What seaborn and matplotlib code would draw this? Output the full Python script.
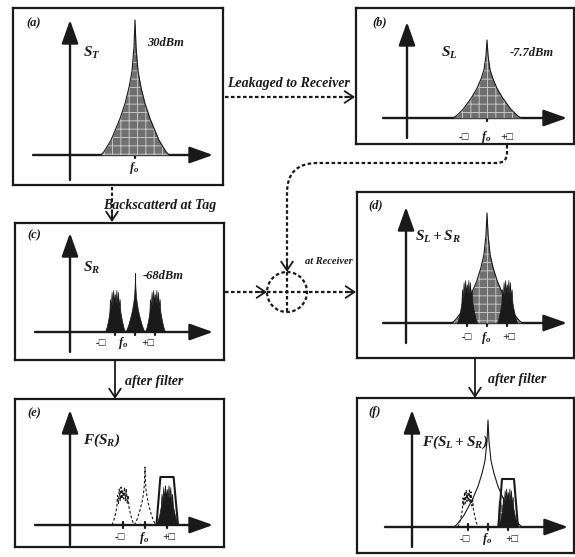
import numpy as np
import matplotlib
matplotlib.use("Agg")
import matplotlib.pyplot as plt
import seaborn as sns
from matplotlib.patches import Circle, PathPatch
from matplotlib.path import Path

# ---- spectrum shapes: x = offset from f0 in units of delta, y = relative level ----
# half profile of the carrier cusp
CUSP_DX = [0.0, 0.05, 0.15, 0.3, 0.5, 0.75, 1.0, 1.2, 1.4, 1.55, 1.7]
CUSP_H = [1.0, 0.80, 0.62, 0.50, 0.38, 0.27, 0.18, 0.11, 0.06, 0.025, 0.0]

# spiky sideband around +/- delta
SB_DX = [-0.5, -0.42, -0.34, -0.28, -0.25, -0.21, -0.17, -0.13, -0.09, -0.05, -0.01,
         0.03, 0.07, 0.11, 0.15, 0.19, 0.23, 0.27, 0.34, 0.42, 0.5]
SB_H = [0.0, 0.05, 0.12, 0.20, 0.33, 0.24, 0.40, 0.27, 0.42, 0.29, 0.38,
        0.29, 0.42, 0.27, 0.40, 0.24, 0.33, 0.20, 0.12, 0.05, 0.0]

# band pass filter around +delta
FILT_X = [0.52, 0.70, 1.30, 1.50]
FILT_H = [0.0, 0.48, 0.48, 0.0]

# leakage tail that passes the filter in (f)
TAIL_X = [0.45, 0.52, 0.65, 0.8, 0.95, 1.1, 1.25, 1.4, 1.6]
TAIL_H = [0.0, 0.27, 0.24, 0.20, 0.16, 0.12, 0.08, 0.04, 0.0]

# carrier peak level / width factor per panel
PEAK_H = {"a": 1.35, "b": 0.78, "c": 0.59, "d": 1.10, "e": 0.58, "f": 1.07}
PEAK_W = {"a": 1.0, "b": 1.0, "c": 0.29, "d": 1.03, "e": 0.29, "f": 1.0}
SB_SCALE = {"c": 1.0, "d": 1.02, "e": 0.95, "e_dash": 0.9, "f": 0.92, "f_dash": 0.88}

# ---- layout in pixels ----
W, H = 575, 557
PANELS = {
    "a": dict(box=(13, 8, 223, 185), f0=135, axy=155, d=20, yax=(70, 180, 20), xax=(33, 213)),
    "b": dict(box=(356, 8, 574, 144), f0=487, axy=118, d=20, yax=(407, 138, 22), xax=(383, 567)),
    "c": dict(box=(15, 223, 224, 360), f0=135, axy=332, d=20, yax=(70, 352, 233), xax=(35, 213)),
    "d": dict(box=(357, 192, 574, 358), f0=487, axy=323, d=20, yax=(406, 343, 207), xax=(383, 567)),
    "e": dict(box=(15, 399, 224, 547), f0=145, axy=525, d=22, yax=(70, 545, 410), xax=(35, 213)),
    "f": dict(box=(357, 398, 574, 553), f0=488, axy=527, d=20, yax=(412, 547, 410), xax=(385, 568)),
}
YPX = 100.0

sns.set_theme(style="white")
plt.rcParams["font.family"] = ["Liberation Serif", "DejaVu Serif"]
plt.rcParams["font.weight"] = "bold"
plt.rcParams["font.style"] = "italic"
plt.rcParams["mathtext.fontset"] = "custom"
plt.rcParams["mathtext.rm"] = "Liberation Serif:bold:italic"
plt.rcParams["mathtext.it"] = "Liberation Serif:bold:italic"
plt.rcParams["mathtext.bf"] = "Liberation Serif:bold:italic"
plt.rcParams["hatch.linewidth"] = 0.7

fig = plt.figure(figsize=(W / 100, H / 100), dpi=100)
ax0 = fig.add_axes([0, 0, 1, 1])
ax0.set_xlim(0, W)
ax0.set_ylim(H, 0)
ax0.axis("off")

TXT = dict(fontsize=10, fontweight="bold", fontstyle="italic", color="k")


def cusp(height, width):
    dx = np.array(CUSP_DX) * width
    h = np.array(CUSP_H) * height
    return np.concatenate([-dx[::-1], dx[1:]]), np.concatenate([h[::-1], h[1:]])


def sideband(center, scale):
    return np.array(SB_DX) + center, np.array(SB_H) * scale


def stipple(ax, x, y, outline=True):
    ax.fill_between(x, y, color="#6f6f6f", lw=0, zorder=2)
    ax.fill_between(x, y, facecolor="none", edgecolor="#c4c4c4", hatch="++", lw=0, zorder=2)
    if outline:
        sns.lineplot(x=x, y=y, sort=False, estimator=None, color="k", lw=0.8, ax=ax, zorder=3)


def black(ax, x, y):
    ax.fill_between(x, y, color="k", lw=0.5, zorder=4)


def outline(ax, x, y, dashed=False, lw=0.8):
    ls = (0, (2.5, 1.8)) if dashed else "-"
    ax.plot(x, y, color="k", lw=lw, ls=ls, zorder=5)


def make_panel(key):
    p = PANELS[key]
    x0, y0, x1, y1 = p["box"]
    ax = fig.add_axes([x0 / W, 1 - y1 / H, (x1 - x0) / W, (y1 - y0) / H])
    ax.set_facecolor("none")
    ax.set_xlim((x0 - p["f0"]) / p["d"], (x1 - p["f0"]) / p["d"])
    ax.set_ylim((p["axy"] - y1) / YPX, (p["axy"] - y0) / YPX)
    ax.set_xticks([])
    ax.set_yticks([])
    for s in ax.spines.values():
        s.set_color("k")
        s.set_linewidth(1.6)
        s.set_visible(True)
    # coordinate axes of the sketch
    head = dict(arrowstyle="-|>,head_length=0.9,head_width=0.32", color="k", lw=1.7,
                mutation_scale=16, shrinkA=0, shrinkB=0)
    yx, yb, yt = p["yax"]
    ax0.annotate("", xy=(yx, yt), xytext=(yx, yb), arrowprops=head, zorder=6)
    xa, xb = p["xax"]
    ax0.annotate("", xy=(xb, p["axy"]), xytext=(xa, p["axy"]), arrowprops=head, zorder=6)
    return ax


def ticks(key, offsets):
    p = PANELS[key]
    for o in offsets:
        xp = p["f0"] + o * p["d"]
        ax0.plot([xp, xp], [p["axy"] - 3, p["axy"] + 3], color="k", lw=1.6, zorder=7)


def label(x, y, s, size=10, ha="left"):
    ax0.text(x, y, s, ha=ha, va="center", **{**TXT, "fontsize": size}, zorder=8)


# ---- (a) transmitted ----
ax = make_panel("a")
stipple(ax, *cusp(PEAK_H["a"], PEAK_W["a"]))
ticks("a", [0])
label(26, 23, "(a)", 9)
label(83, 53, r"$S_T$", 11)
label(147, 43, "30dBm", 9)
label(134, 168, r"$f_o$", 9, "center")

# ---- (b) leakage ----
ax = make_panel("b")
stipple(ax, *cusp(PEAK_H["b"], PEAK_W["b"]))
ticks("b", [0])
label(372, 22, "(b)", 9)
label(441, 53, r"$S_L$", 11)
label(510, 53, "-7.7dBm", 9)
label(464, 137, "-\u25a1", 8, "center")
label(486, 137, r"$f_o$", 9, "center")
label(507, 137, "+\u25a1", 8, "center")

# ---- (c) backscattered ----
ax = make_panel("c")
black(ax, *cusp(PEAK_H["c"], PEAK_W["c"]))
black(ax, *sideband(-1, SB_SCALE["c"]))
black(ax, *sideband(1, SB_SCALE["c"]))
ticks("c", [-1, 0, 1])
label(27, 235, "(c)", 9)
label(83, 268, r"$S_R$", 11)
label(143, 276, "-68dBm", 9)
label(101, 343, "-\u25a1", 8, "center")
label(123, 343, r"$f_o$", 9, "center")
label(148, 343, "+\u25a1", 8, "center")

# ---- (d) sum at receiver ----
ax = make_panel("d")
black(ax, *sideband(-1, SB_SCALE["d"]))
black(ax, *sideband(1, SB_SCALE["d"]))
stipple(ax, *cusp(PEAK_H["d"], PEAK_W["d"]))
ticks("d", [-1, 0, 1])
label(368, 205, "(d)", 9)
label(415, 237, r"$S_L + S_R$", 11)
label(467, 338, "-\u25a1", 8, "center")
label(486, 338, r"$f_o$", 9, "center")
label(509, 338, "+\u25a1", 8, "center")

# ---- (e) filtered backscatter ----
ax = make_panel("e")
outline(ax, *sideband(-1, SB_SCALE["e_dash"]), dashed=True)
outline(ax, *cusp(PEAK_H["e"], PEAK_W["e"]), dashed=True)
black(ax, *sideband(1, SB_SCALE["e"]))
outline(ax, FILT_X, FILT_H, lw=1.5)
ticks("e", [-1, 0, 1])
label(27, 413, "(e)", 9)
label(83, 440, r"$F(S_R)$", 11)
label(120, 538, "-\u25a1", 8, "center")
label(144, 538, r"$f_o$", 9, "center")
label(169, 538, "+\u25a1", 8, "center")

# ---- (f) filtered sum ----
ax = make_panel("f")
cx, cy = cusp(PEAK_H["f"], PEAK_W["f"])
sns.lineplot(x=cx, y=cy, sort=False, estimator=None, color="k", lw=0.8, ax=ax, zorder=5)
outline(ax, *sideband(-1, SB_SCALE["f_dash"]), dashed=True)
stipple(ax, TAIL_X, TAIL_H, outline=False)
black(ax, *sideband(1, SB_SCALE["f"]))
outline(ax, FILT_X, FILT_H, lw=1.5)
ticks("f", [-1, 0, 1])
label(368, 412, "(f)", 9)
label(422, 442, r"$F(S_L + S_R)$", 11)
label(465, 539, "-\u25a1", 8, "center")
label(487, 539, r"$f_o$", 9, "center")
label(512, 539, "+\u25a1", 8, "center")

# ---- connectors ----
DOT = (0, (1.6, 1.1))


def head(tip, frm, lw=1.3):
    ax0.annotate("", xy=tip, xytext=frm,
                 arrowprops=dict(arrowstyle="->,head_length=0.45,head_width=0.3", color="k",
                                 lw=lw, mutation_scale=14, shrinkA=0, shrinkB=0), zorder=9)


# leakage path (a) -> (b)
ax0.plot([225, 354], [97, 97], color="k", lw=1.6, ls=DOT)
head((355, 97), (345, 97))
label(227, 84, "Leakaged to Receiver", 10)

# backscatter path (a) -> (c)
ax0.plot([112, 112], [187, 221], color="k", lw=1.5, ls=DOT)
head((112, 222), (112, 212))
label(103, 206, "Backscatterd at Tag", 10)

# leakage routed from (b) to the combiner
verts = [(507, 145), (507, 153), (507, 163), (497, 163), (317, 163), (287, 163), (287, 193), (287, 270)]
codes = [Path.MOVETO, Path.LINETO, Path.CURVE3, Path.CURVE3, Path.LINETO, Path.CURVE3, Path.CURVE3, Path.LINETO]
ax0.add_patch(PathPatch(Path(verts, codes), fill=False, color="k", lw=1.6, ls=DOT))
head((287, 272), (287, 262))
ax0.plot([287, 287], [272, 312], color="k", lw=1.6, ls=DOT)

# combiner
ax0.add_patch(Circle((287, 292), 20, fill=False, color="k", lw=1.6, ls=DOT))
ax0.plot([225, 355], [292, 292], color="k", lw=1.6, ls=DOT)
head((267, 292), (257, 292))
head((356, 292), (346, 292))
label(305, 262, "at Receiver", 7.5)

# filters
head((115, 399), (115, 360), lw=1.3)
label(125, 382, "after filter", 10)
head((475, 398), (475, 358), lw=1.3)
label(488, 380, "after filter", 10)

fig.savefig("out.png", dpi=100)
